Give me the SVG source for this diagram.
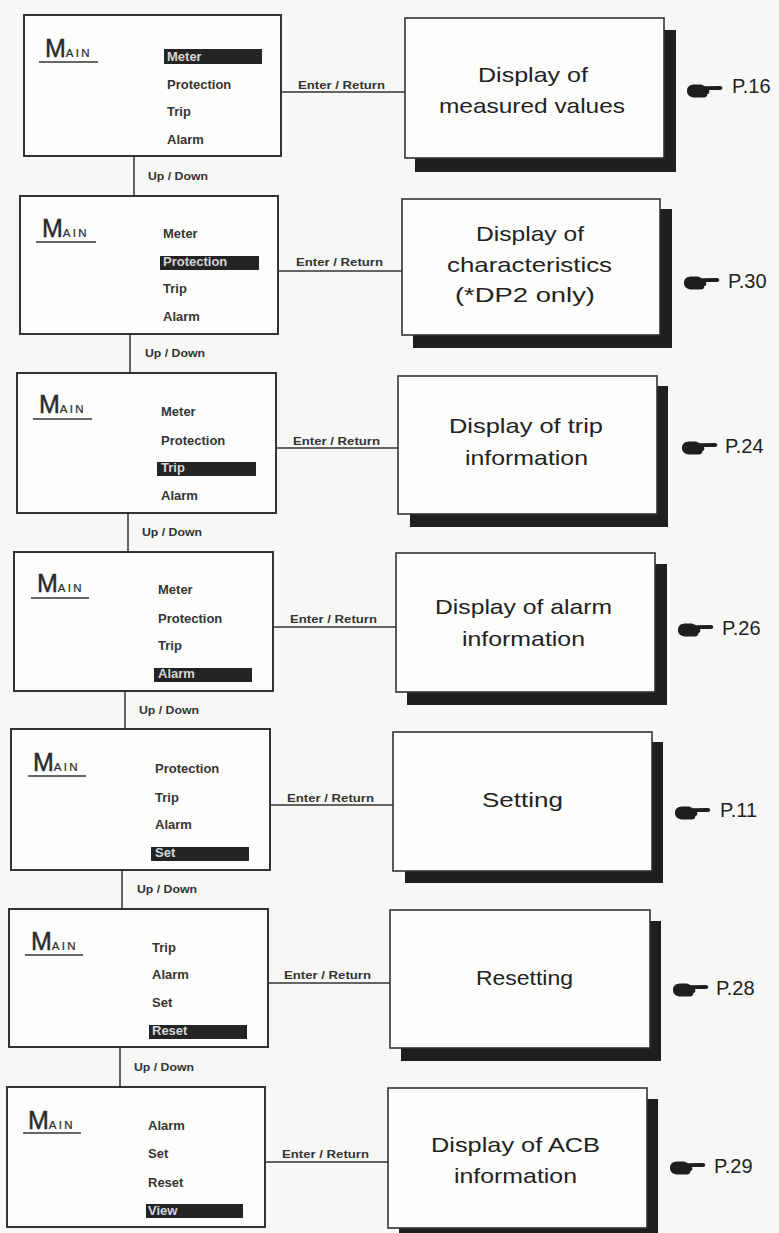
<svg xmlns="http://www.w3.org/2000/svg" xmlns:xlink="http://www.w3.org/1999/xlink" width="779" height="1233" viewBox="0 0 779 1233">
<style>
.menu{fill:#fdfdfb;stroke:#333;stroke-width:2}
.disp{fill:#fdfdfb;stroke:#333;stroke-width:1.6}
.shadow{fill:#1e1f1e}
.hl{fill:#232423}
.item{font-family:"Liberation Sans",Arial,sans-serif;font-weight:bold;font-size:13px;fill:#353535}
.item-on{font-family:"Liberation Sans",Arial,sans-serif;font-weight:bold;font-size:13px;fill:#d6d6d6}
.main{font-family:"Liberation Sans",Arial,sans-serif;fill:#2a2a2a}
.mbig{font-size:25px;stroke:#2a2a2a;stroke-width:0.45}
.msmall{font-size:11.5px;letter-spacing:2.3px;stroke:#2a2a2a;stroke-width:0.2}
.uline{stroke:#333;stroke-width:1.6}
.big{font-family:"Liberation Sans",Arial,sans-serif;font-size:21px;fill:#222}
.ref{font-family:"Liberation Sans",Arial,sans-serif;font-size:20px;fill:#222}
.lbl{font-family:"Liberation Sans",Arial,sans-serif;font-weight:bold;font-size:11px;fill:#333}
.conn{stroke:#333;stroke-width:1.5;fill:none}
.hand{fill:#1e1e1e}
</style>
<defs>
<path id="hand" d="M0,0 C0,-4.5 3,-6.5 8,-6.5 L14,-6.5 L18,-4.8 L33,-5 C36,-5 36,-1 33,-1 L22,-1 C23,1 22,3 20,3.5 C21,5 19,6.5 16,6.5 L8,6.5 C3,6.5 0,4 0,0 Z"/>
</defs>
<rect width="779" height="1233" fill="#f7f7f5"/>

<g id="connectors">
  <line class="conn" x1="281" y1="92" x2="405" y2="92"/>
  <text class="lbl" x="298" y="89" textLength="87" lengthAdjust="spacingAndGlyphs">Enter / Return</text>
  <line class="conn" x1="134" y1="156" x2="134" y2="196"/>
  <text class="lbl" x="148" y="180" textLength="60" lengthAdjust="spacingAndGlyphs">Up / Down</text>

  <line class="conn" x1="278" y1="271" x2="402" y2="271"/>
  <text class="lbl" x="296" y="266" textLength="87" lengthAdjust="spacingAndGlyphs">Enter / Return</text>
  <line class="conn" x1="130" y1="334" x2="130" y2="373"/>
  <text class="lbl" x="145" y="357" textLength="60" lengthAdjust="spacingAndGlyphs">Up / Down</text>

  <line class="conn" x1="276" y1="448" x2="398" y2="448"/>
  <text class="lbl" x="293" y="445" textLength="87" lengthAdjust="spacingAndGlyphs">Enter / Return</text>
  <line class="conn" x1="128" y1="513" x2="128" y2="552"/>
  <text class="lbl" x="142" y="536" textLength="60" lengthAdjust="spacingAndGlyphs">Up / Down</text>

  <line class="conn" x1="273" y1="627" x2="396" y2="627"/>
  <text class="lbl" x="290" y="623" textLength="87" lengthAdjust="spacingAndGlyphs">Enter / Return</text>
  <line class="conn" x1="125" y1="691" x2="125" y2="729"/>
  <text class="lbl" x="139" y="714" textLength="60" lengthAdjust="spacingAndGlyphs">Up / Down</text>

  <line class="conn" x1="270" y1="805" x2="393" y2="805"/>
  <text class="lbl" x="287" y="802" textLength="87" lengthAdjust="spacingAndGlyphs">Enter / Return</text>
  <line class="conn" x1="122" y1="870" x2="122" y2="909"/>
  <text class="lbl" x="137" y="893" textLength="60" lengthAdjust="spacingAndGlyphs">Up / Down</text>

  <line class="conn" x1="268" y1="983" x2="390" y2="983"/>
  <text class="lbl" x="284" y="979" textLength="87" lengthAdjust="spacingAndGlyphs">Enter / Return</text>
  <line class="conn" x1="120" y1="1047" x2="120" y2="1087"/>
  <text class="lbl" x="134" y="1071" textLength="60" lengthAdjust="spacingAndGlyphs">Up / Down</text>

  <line class="conn" x1="265" y1="1162" x2="388" y2="1162"/>
  <text class="lbl" x="282" y="1158" textLength="87" lengthAdjust="spacingAndGlyphs">Enter / Return</text>
</g>

<g id="menu-meter">
  <rect class="menu" x="24" y="15" width="257" height="141"/>
  <text class="main" x="45" y="57"><tspan class="mbig">M</tspan><tspan class="msmall">AIN</tspan></text>
  <line class="uline" x1="39" y1="62" x2="98" y2="62"/>
  <rect class="hl" x="164" y="49" width="98" height="15"/>
  <text class="item-on" x="167" y="61">Meter</text>
  <text class="item" x="167" y="89">Protection</text>
  <text class="item" x="167" y="116">Trip</text>
  <text class="item" x="167" y="144">Alarm</text>
</g>

<g id="menu-protection">
  <rect class="menu" x="20" y="196" width="258" height="138"/>
  <text class="main" x="42" y="237"><tspan class="mbig">M</tspan><tspan class="msmall">AIN</tspan></text>
  <line class="uline" x1="36" y1="242" x2="96" y2="242"/>
  <rect class="hl" x="160" y="256" width="99" height="14"/>
  <text class="item" x="163" y="238">Meter</text>
  <text class="item-on" x="163" y="266">Protection</text>
  <text class="item" x="163" y="293">Trip</text>
  <text class="item" x="163" y="321">Alarm</text>
</g>

<g id="menu-trip">
  <rect class="menu" x="17" y="373" width="259" height="140"/>
  <text class="main" x="39" y="413"><tspan class="mbig">M</tspan><tspan class="msmall">AIN</tspan></text>
  <line class="uline" x1="33" y1="419" x2="92" y2="419"/>
  <rect class="hl" x="157" y="462" width="99" height="14"/>
  <text class="item" x="161" y="416">Meter</text>
  <text class="item" x="161" y="445">Protection</text>
  <text class="item-on" x="161" y="472">Trip</text>
  <text class="item" x="161" y="500">Alarm</text>
</g>

<g id="menu-alarm">
  <rect class="menu" x="14" y="552" width="259" height="139"/>
  <text class="main" x="37" y="592"><tspan class="mbig">M</tspan><tspan class="msmall">AIN</tspan></text>
  <line class="uline" x1="31" y1="598" x2="89" y2="598"/>
  <rect class="hl" x="154" y="668" width="98" height="14"/>
  <text class="item" x="158" y="594">Meter</text>
  <text class="item" x="158" y="623">Protection</text>
  <text class="item" x="158" y="650">Trip</text>
  <text class="item-on" x="158" y="678">Alarm</text>
</g>

<g id="menu-set">
  <rect class="menu" x="11" y="729" width="259" height="141"/>
  <text class="main" x="33" y="771"><tspan class="mbig">M</tspan><tspan class="msmall">AIN</tspan></text>
  <line class="uline" x1="28" y1="776" x2="86" y2="776"/>
  <rect class="hl" x="151" y="847" width="98" height="14"/>
  <text class="item" x="155" y="773">Protection</text>
  <text class="item" x="155" y="802">Trip</text>
  <text class="item" x="155" y="829">Alarm</text>
  <text class="item-on" x="155" y="857">Set</text>
</g>

<g id="menu-reset">
  <rect class="menu" x="9" y="909" width="259" height="138"/>
  <text class="main" x="31" y="950"><tspan class="mbig">M</tspan><tspan class="msmall">AIN</tspan></text>
  <line class="uline" x1="25" y1="955" x2="83" y2="955"/>
  <rect class="hl" x="149" y="1025" width="98" height="14"/>
  <text class="item" x="152" y="952">Trip</text>
  <text class="item" x="152" y="979">Alarm</text>
  <text class="item" x="152" y="1007">Set</text>
  <text class="item-on" x="152" y="1035">Reset</text>
</g>

<g id="menu-view">
  <rect class="menu" x="7" y="1087" width="258" height="140"/>
  <text class="main" x="28" y="1129"><tspan class="mbig">M</tspan><tspan class="msmall">AIN</tspan></text>
  <line class="uline" x1="23" y1="1133" x2="81" y2="1133"/>
  <rect class="hl" x="146" y="1204" width="97" height="14"/>
  <text class="item" x="148" y="1130">Alarm</text>
  <text class="item" x="148" y="1158">Set</text>
  <text class="item" x="148" y="1187">Reset</text>
  <text class="item-on" x="148" y="1215">View</text>
</g>

<g id="display-measured">
  <rect class="shadow" x="415" y="30" width="261" height="142"/>
  <rect class="disp" x="405" y="18" width="259" height="140"/>
  <text class="big" x="478" y="82" textLength="110" lengthAdjust="spacingAndGlyphs">Display of</text>
  <text class="big" x="439" y="113" textLength="186" lengthAdjust="spacingAndGlyphs">measured values</text>
</g>
<g id="ref-16">
  <use xlink:href="#hand" class="hand" x="687" y="91"/>
  <text class="ref" x="732" y="93">P.16</text>
</g>

<g id="display-characteristics">
  <rect class="shadow" x="413" y="209" width="259" height="139"/>
  <rect class="disp" x="402" y="199" width="258" height="136"/>
  <text class="big" x="476" y="241" textLength="108" lengthAdjust="spacingAndGlyphs">Display of</text>
  <text class="big" x="447" y="272" textLength="165" lengthAdjust="spacingAndGlyphs">characteristics</text>
  <text class="big" x="455" y="302" textLength="140" lengthAdjust="spacingAndGlyphs">(*DP2 only)</text>
</g>
<g id="ref-30">
  <use xlink:href="#hand" class="hand" x="684" y="283"/>
  <text class="ref" x="728" y="288">P.30</text>
</g>

<g id="display-trip">
  <rect class="shadow" x="410" y="386" width="258" height="141"/>
  <rect class="disp" x="398" y="376" width="259" height="138"/>
  <text class="big" x="449" y="433" textLength="154" lengthAdjust="spacingAndGlyphs">Display of trip</text>
  <text class="big" x="465" y="465" textLength="123" lengthAdjust="spacingAndGlyphs">information</text>
</g>
<g id="ref-24">
  <use xlink:href="#hand" class="hand" x="682" y="448"/>
  <text class="ref" x="725" y="453">P.24</text>
</g>

<g id="display-alarm">
  <rect class="shadow" x="407" y="564" width="260" height="141"/>
  <rect class="disp" x="396" y="553" width="259" height="139"/>
  <text class="big" x="435" y="614" textLength="177" lengthAdjust="spacingAndGlyphs">Display of alarm</text>
  <text class="big" x="462" y="646" textLength="123" lengthAdjust="spacingAndGlyphs">information</text>
</g>
<g id="ref-26">
  <use xlink:href="#hand" class="hand" x="678" y="630"/>
  <text class="ref" x="722" y="635">P.26</text>
</g>

<g id="display-setting">
  <rect class="shadow" x="405" y="742" width="258" height="141"/>
  <rect class="disp" x="393" y="732" width="259" height="139"/>
  <text class="big" x="482" y="807" textLength="81" lengthAdjust="spacingAndGlyphs">Setting</text>
</g>
<g id="ref-11">
  <use xlink:href="#hand" class="hand" x="675" y="813"/>
  <text class="ref" x="720" y="817">P.11</text>
</g>

<g id="display-resetting">
  <rect class="shadow" x="401" y="921" width="260" height="140"/>
  <rect class="disp" x="390" y="910" width="260" height="138"/>
  <text class="big" x="476" y="985" textLength="97" lengthAdjust="spacingAndGlyphs">Resetting</text>
</g>
<g id="ref-28">
  <use xlink:href="#hand" class="hand" x="673" y="990"/>
  <text class="ref" x="716" y="995">P.28</text>
</g>

<g id="display-acb">
  <rect class="shadow" x="399" y="1099" width="259" height="141"/>
  <rect class="disp" x="388" y="1088" width="259" height="140"/>
  <text class="big" x="431" y="1152" textLength="169" lengthAdjust="spacingAndGlyphs">Display of ACB</text>
  <text class="big" x="454" y="1183" textLength="123" lengthAdjust="spacingAndGlyphs">information</text>
</g>
<g id="ref-29">
  <use xlink:href="#hand" class="hand" x="670" y="1168"/>
  <text class="ref" x="714" y="1173">P.29</text>
</g>
</svg>
